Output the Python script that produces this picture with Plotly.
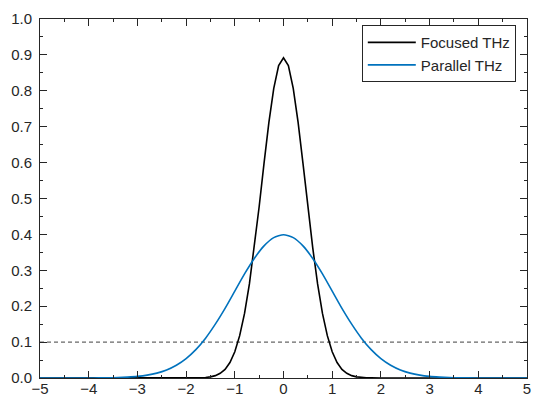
import plotly.graph_objects as go

# Focused THz
x_focused = [-5.0, -2.0, -1.9, -1.8, -1.7, -1.6, -1.5, -1.4, -1.3, -1.2, -1.1,
             -1.0, -0.9, -0.8, -0.7, -0.6, -0.5, -0.4, -0.3, -0.2, -0.1,
             0.0, 0.1, 0.2, 0.3, 0.4, 0.5, 0.6, 0.7, 0.8, 0.9,
             1.0, 1.1, 1.2, 1.3, 1.4, 1.5, 1.6, 1.7, 1.8, 1.9, 2.0, 5.0]
y_focused = [0.0, 0.0, 0.0, 0.0003, 0.0007, 0.0015, 0.0032, 0.0066, 0.013, 0.024, 0.043,
             0.073, 0.118, 0.180, 0.262, 0.363, 0.477, 0.598, 0.712, 0.807, 0.870,
             0.892, 0.870, 0.807, 0.712, 0.598, 0.477, 0.363, 0.262, 0.180, 0.118,
             0.073, 0.043, 0.024, 0.013, 0.0066, 0.0032, 0.0015, 0.0007, 0.0003, 0.0, 0.0, 0.0]

# Parallel THz
x_parallel = [-5.0, -4.6, -4.2, -4.0, -3.8, -3.6, -3.4, -3.2, -3.0, -2.8, -2.6, -2.4, -2.2,
              -2.0, -1.8, -1.6, -1.4, -1.2, -1.0, -0.8, -0.6, -0.4, -0.2,
              0.0, 0.2, 0.4, 0.6, 0.8, 1.0, 1.2, 1.4, 1.6, 1.8,
              2.0, 2.2, 2.4, 2.6, 2.8, 3.0, 3.2, 3.4, 3.6, 3.8, 4.0, 4.2, 4.6, 5.0]
y_parallel = [0.0, 0.0, 0.0001, 0.0001, 0.0003, 0.0006, 0.0012, 0.0024, 0.0044, 0.0079, 0.0136, 0.0224, 0.0355,
              0.054, 0.079, 0.111, 0.150, 0.194, 0.242, 0.290, 0.333, 0.368, 0.391,
              0.399, 0.391, 0.368, 0.333, 0.290, 0.242, 0.194, 0.150, 0.111, 0.079,
              0.054, 0.0355, 0.0224, 0.0136, 0.0079, 0.0044, 0.0024, 0.0012, 0.0006, 0.0003, 0.0001, 0.0001, 0.0, 0.0]

threshold_x = [-5, 5]
threshold_y = [0.1, 0.1]

x_ticks = [-5, -4, -3, -2, -1, 0, 1, 2, 3, 4, 5]
y_ticks = [0.0, 0.1, 0.2, 0.3, 0.4, 0.5, 0.6, 0.7, 0.8, 0.9, 1.0]

axis_color = "#262626"
font = dict(family="Liberation Sans, Arial, Helvetica, sans-serif", size=15, color=axis_color)

fig = go.Figure()
fig.add_trace(go.Scatter(x=threshold_x, y=threshold_y, mode="lines", showlegend=False,
                         line=dict(color="#404040", width=1, dash="4px,3px")))
fig.add_trace(go.Scatter(x=x_focused, y=y_focused, mode="lines", name="Focused THz",
                         line=dict(color="#000000", width=1.6)))
fig.add_trace(go.Scatter(x=x_parallel, y=y_parallel, mode="lines", name="Parallel THz",
                         line=dict(color="#0072BD", width=1.6, shape="spline", smoothing=0.6)))

axis_common = dict(showgrid=False, zeroline=False, showline=True, linecolor=axis_color,
                   linewidth=1, mirror="ticks", ticks="inside", ticklen=7, tickwidth=1,
                   tickcolor=axis_color, tickfont=font, automargin=False)

fig.update_xaxes(range=[-5, 5], tickvals=x_ticks, ticklabelstandoff=-3,
                 minor=dict(ticks="inside", ticklen=3, tickcolor=axis_color, dtick=0.5, showgrid=False),
                 **axis_common)
fig.update_yaxes(range=[0, 1], tickvals=y_ticks, tickformat=".1f", ticklabelstandoff=4,
                 minor=dict(ticks="inside", ticklen=3, tickcolor=axis_color, dtick=0.05, showgrid=False),
                 **axis_common)

fig.update_layout(
    width=538, height=397,
    margin=dict(l=40, r=11, t=19, b=19),
    paper_bgcolor="white", plot_bgcolor="white",
    font=font,
    legend=dict(x=0.977, xanchor="right", y=0.983, yanchor="top",
                bgcolor="white", bordercolor="#262626", borderwidth=1,
                font=dict(family="Liberation Sans, Arial, sans-serif", size=15, color="#262626"),
                tracegroupgap=0, itemwidth=48),
)

fig.write_html("out.html")
